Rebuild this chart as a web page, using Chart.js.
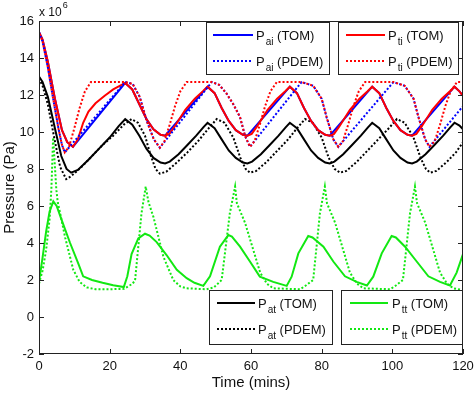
<!DOCTYPE html>
<html>
<head>
<meta charset="utf-8">
<title>Pressure vs time</title>
<script src="https://cdn.jsdelivr.net/npm/chart.js@4.4.1/dist/chart.umd.min.js"></script>
<style>
  html, body { margin: 0; padding: 0; background: #fff; }
  canvas { display: block; }
</style>
</head>
<body>
<canvas id="chart" width="474" height="393"></canvas>
<script>
const xTicks = [0, 20, 40, 60, 80, 100, 120];
const yTicks = [-2, 0, 2, 4, 6, 8, 10, 12, 14, 16];

// time in mins, pressure in 1e6 Pa
const paiTomT = [0, 1, 2.5, 4.5, 6.5, 8, 9.6, 24.4, 26.4, 28.4, 30.4, 32.4, 34.4, 35.7, 47.7, 49.7, 51.7, 53.7, 55.7, 57.7, 59, 71, 73, 75, 77, 79, 81, 82.3, 94.3, 96.3, 98.3, 100.3, 102.3, 104.3, 105.6, 117.6, 119, 120];
const paiTomP = [15.4, 15.0, 13.8, 11.8, 10.1, 9.45, 9.2, 12.65, 12.3, 11.5, 10.7, 10.15, 9.85, 9.8, 12.45, 12.1, 11.3, 10.6, 10.1, 9.85, 9.8, 12.45, 12.1, 11.3, 10.6, 10.1, 9.85, 9.8, 12.45, 12.1, 11.3, 10.6, 10.1, 9.85, 9.8, 12.45, 12.2, 11.95];

const paiPdemT = [0, 1, 2.5, 4, 5.5, 6.5, 7.3, 24.4, 26.5, 28.5, 30.5, 32.5, 34.2, 48.9, 51, 53, 55, 56.9, 58.3, 59.7, 74.3, 77.6, 80, 81.4, 83.3, 84.7, 100.3, 103.5, 106, 107.4, 109.3, 110.5, 120];
const paiPdemP = [15.4, 14.9, 13.5, 11.8, 10.2, 9.3, 8.9, 12.7, 12.6, 11.9, 10.6, 9.6, 9.15, 12.7, 12.55, 12.1, 11.5, 10.8, 9.8, 9.2, 12.7, 12.5, 11.8, 10.8, 9.6, 9.2, 12.7, 12.5, 11.8, 10.8, 9.6, 9.2, 11.4];

const ptiTomT = [0, 1, 2.5, 4.5, 6.5, 8, 9.6, 11, 12.5, 14, 16, 18.5, 21, 24.4, 26.4, 28.4, 30.4, 32.4, 34.4, 35.7, 36.9, 38.4, 41.4, 44.1, 46.4, 47.7, 49.7, 51.7, 53.7, 55.7, 57.7, 59, 60.2, 61.7, 64.7, 67.4, 69.7, 71, 73, 75, 77, 79, 81, 82.3, 83.5, 85, 88, 90.7, 93, 94.3, 96.3, 98.3, 100.3, 102.3, 104.3, 105.6, 106.8, 108.3, 111.3, 114, 116.3, 117.6, 119, 120];
const ptiTomP = [15.4, 15.0, 13.8, 11.8, 10.1, 9.45, 9.2, 9.6, 10.5, 11.1, 11.55, 11.95, 12.3, 12.65, 12.3, 11.5, 10.7, 10.15, 9.85, 9.8, 9.9, 10.3, 11.2, 11.8, 12.2, 12.45, 12.1, 11.3, 10.6, 10.1, 9.85, 9.8, 9.9, 10.3, 11.2, 11.8, 12.2, 12.45, 12.1, 11.3, 10.6, 10.1, 9.85, 9.8, 9.9, 10.3, 11.2, 11.8, 12.2, 12.45, 12.1, 11.3, 10.6, 10.1, 9.85, 9.8, 9.9, 10.3, 11.2, 11.8, 12.2, 12.45, 12.2, 11.95];

const ptiPdemT = [0, 1, 2.5, 4, 5.5, 6.5, 7.3, 8.5, 10, 11.5, 13, 14.7, 24.4, 26.5, 28.5, 30.5, 32.5, 34.2, 35.5, 37, 38.5, 40, 41.8, 48.9, 51, 53, 55, 56.9, 58.3, 59.7, 61, 62.5, 64, 65.5, 67.3, 74.3, 77.6, 80, 81.4, 83.3, 84.7, 86, 87.5, 89, 90.5, 92.3, 100.3, 103.5, 106, 107.4, 109.3, 110.5, 112, 113.5, 115, 116.5, 118.3, 120];
const ptiPdemP = [15.4, 14.9, 13.5, 11.8, 10.2, 9.3, 8.9, 9.2, 10.2, 11.3, 12.2, 12.7, 12.7, 12.6, 11.9, 10.6, 9.6, 9.15, 9.5, 10.4, 11.4, 12.2, 12.7, 12.7, 12.55, 12.1, 11.5, 10.8, 9.8, 9.2, 9.5, 10.4, 11.4, 12.2, 12.7, 12.7, 12.5, 11.8, 10.8, 9.6, 9.2, 9.5, 10.4, 11.4, 12.2, 12.7, 12.7, 12.5, 11.8, 10.8, 9.6, 9.2, 9.5, 10.4, 11.4, 12.2, 12.7, 12.7];

const patTomT = [0, 1, 2.5, 4.5, 6.3, 7.8, 9.1, 11, 14, 17, 20, 22.5, 24.4, 26.4, 28.4, 30.4, 32.4, 34.4, 35.7, 37, 39.5, 42, 44.5, 46.5, 47.7, 49.7, 51.7, 53.7, 55.7, 57.7, 59, 60.3, 62.8, 65.3, 67.8, 69.8, 71, 73, 75, 77, 79, 81, 82.3, 83.6, 86.1, 88.6, 91.1, 93.1, 94.3, 96.3, 98.3, 100.3, 102.3, 104.3, 105.6, 106.9, 109.4, 111.9, 114.4, 116.4, 117.6, 119, 120];
const patTomP = [13.0, 12.7, 11.9, 10.2, 8.7, 8.0, 7.8, 7.95, 8.5, 9.1, 9.7, 10.3, 10.7, 10.4, 9.8, 9.1, 8.6, 8.35, 8.3, 8.4, 8.8, 9.3, 9.8, 10.25, 10.5, 10.2, 9.6, 9.0, 8.6, 8.35, 8.3, 8.4, 8.8, 9.3, 9.8, 10.25, 10.5, 10.2, 9.6, 9.0, 8.6, 8.35, 8.3, 8.4, 8.8, 9.3, 9.8, 10.25, 10.5, 10.2, 9.6, 9.0, 8.6, 8.35, 8.3, 8.4, 8.8, 9.3, 9.8, 10.25, 10.5, 10.35, 10.15];

const patPdemT = [0, 1, 2.5, 4.5, 6, 7.7, 9, 12, 15, 18, 21, 24, 26.2, 28, 30, 31.5, 33, 34.2, 36, 39, 42, 45, 48, 50.3, 52.5, 55, 57, 58.5, 59.7, 61.5, 64.5, 67.5, 70.5, 73, 75.3, 77.5, 80, 82, 83.7, 85.2, 87, 90, 93, 96, 99, 101.3, 103.5, 106, 108, 109.5, 110.7, 112.5, 115.5, 118, 120];
const patPdemP = [12.9, 12.5, 11.5, 9.5, 8.1, 7.45, 7.6, 8.1, 8.7, 9.3, 9.8, 10.4, 10.7, 10.5, 9.8, 8.8, 8.0, 7.75, 7.85, 8.35, 8.9, 9.5, 10.2, 10.7, 10.5, 9.7, 8.6, 8.0, 7.8, 7.9, 8.4, 9.0, 9.6, 10.2, 10.7, 10.5, 9.7, 8.6, 8.0, 7.8, 7.9, 8.4, 9.0, 9.6, 10.2, 10.7, 10.5, 9.7, 8.6, 8.0, 7.8, 7.9, 8.4, 8.9, 9.45];

const pttTomT = [0, 1, 2, 3, 4.05, 5, 6.4, 8.8, 11.1, 12.5, 15, 18, 21, 24, 25, 26.2, 28.1, 30, 31.3, 33.3, 36.1, 39, 41.8, 44, 46.5, 48.4, 51.2, 53.6, 54.6, 56.9, 59.7, 62.5, 66.3, 70.1, 71.5, 73.4, 76.2, 77.4, 80.5, 83.3, 86.6, 89.9, 92.8, 94.6, 97, 99.8, 101, 103.6, 106.9, 110.2, 113.5, 116.3, 118.2, 120];
const pttTomP = [1.9, 3.2, 4.6, 5.7, 6.25, 6.0, 5.25, 4.0, 2.9, 2.2, 2.0, 1.85, 1.72, 1.62, 2.2, 3.4, 4.25, 4.5, 4.4, 4.05, 3.35, 2.55, 2.1, 1.85, 1.68, 2.2, 3.8, 4.43, 4.35, 3.8, 3.0, 2.18, 1.9, 1.68, 2.18, 3.44, 4.38, 4.3, 3.8, 3.0, 2.2, 1.9, 1.7, 2.18, 3.44, 4.38, 4.3, 3.8, 3.0, 2.2, 1.9, 1.7, 2.4, 3.4];

const pttPdemT = [0, 1, 2, 3, 3.5, 4.0, 4.9, 5.3, 6.0, 7.4, 9.7, 11.5, 13.5, 16, 20, 24, 26.5, 27.2, 29, 30.2, 31, 32.4, 35.2, 38, 40, 41.8, 47.4, 49.5, 51.7, 54, 55.5, 56, 58.3, 62.6, 64.5, 66.3, 73.9, 75.5, 77.6, 79.5, 80.9, 81.5, 83.8, 88, 90, 91.8, 99.4, 101, 103, 105, 106.4, 107, 109.3, 113.5, 115.5, 117.3, 120];
const pttPdemP = [1.8, 2.5, 3.6, 5.3, 6.9, 9.7, 6.9, 6.2, 5.6, 4.3, 2.55, 1.9, 1.6, 1.5, 1.5, 1.52, 1.8, 2.0, 5.6, 7.05, 6.2, 5.4, 3.26, 2.0, 1.65, 1.55, 1.5, 1.6, 2.0, 5.6, 7.05, 6.15, 5.1, 2.4, 1.8, 1.55, 1.5, 1.7, 2.0, 5.6, 7.05, 6.15, 5.1, 2.4, 1.8, 1.55, 1.5, 1.7, 2.0, 5.6, 7.05, 6.15, 5.1, 2.4, 1.8, 1.55, 1.45];

const FONT = '"Liberation Sans", Arial, Helvetica, sans-serif';
const DOT = [2, 2];
const GREEN = '#12e812';

const pts = (t, p) => t.map((x, i) => ({ x, y: p[i] }));

function series(label, sub, model, t, p, color, dotted, order, offset = 0) {
    return {
        label, sub, model,
        data: pts(t, p),
        borderColor: color,
        backgroundColor: color,
        borderWidth: 2,
        borderDash: dotted ? DOT : [],
        borderDashOffset: offset,
        pointRadius: 0,
        tension: 0,
        fill: false,
        order
    };
}

const datasets = [
    series('P_ai (TOM)', 'ai', 'TOM', paiTomT, paiTomP, '#0000ff', false, 5),
    series('P_ai (PDEM)', 'ai', 'PDEM', paiPdemT, paiPdemP, '#0000ff', true, 2),
    series('P_ti (TOM)', 'ti', 'TOM', ptiTomT, ptiTomP, '#ff0000', false, 3),
    series('P_ti (PDEM)', 'ti', 'PDEM', ptiPdemT, ptiPdemP, '#ff0000', true, 1, 2),
    series('P_at (TOM)', 'at', 'TOM', patTomT, patTomP, '#000000', false, 8),
    series('P_at (PDEM)', 'at', 'PDEM', patPdemT, patPdemP, '#000000', true, 7),
    series('P_tt (TOM)', 'tt', 'TOM', pttTomT, pttTomP, GREEN, false, 6),
    series('P_tt (PDEM)', 'tt', 'PDEM', pttPdemT, pttPdemP, GREEN, true, 4)
];

// legend boxes: [left, top, width, height, sample x0, sample x1, text x, dataset indexes]
const legendBoxes = [
    [206, 22, 123, 52, 213, 253, 256, [0, 1]],
    [338, 22, 120, 52, 346, 385, 388, [2, 3]],
    [209, 290, 123, 54, 217, 255, 258, [4, 5]],
    [341, 290, 121, 54, 350, 388, 392, [6, 7]]
];

function legendEntry(ctx, ds, x0, x1, xt, y) {
    ctx.save();
    ctx.strokeStyle = ds.borderColor;
    ctx.lineWidth = 2;
    ctx.setLineDash(ds.borderDash);
    ctx.beginPath();
    ctx.moveTo(x0, y);
    ctx.lineTo(x1, y);
    ctx.stroke();
    ctx.restore();

    ctx.fillStyle = '#111';
    ctx.textBaseline = 'alphabetic';
    ctx.textAlign = 'left';
    ctx.font = '13px ' + FONT;
    ctx.fillText('P', xt, y + 5);
    let w = ctx.measureText('P').width + 1;
    ctx.font = '10px ' + FONT;
    ctx.fillText(ds.sub, xt + w, y + 10);
    w += ctx.measureText(ds.sub).width;
    ctx.font = '13px ' + FONT;
    ctx.fillText(' (' + ds.model + ')', xt + w, y + 5);
}

const framePlugin = {
    id: 'frame',
    afterDatasetsDraw(chart) {
        const { ctx, chartArea: a, scales: { x, y } } = chart;
        ctx.save();
        ctx.strokeStyle = '#222';
        ctx.lineWidth = 1;
        ctx.strokeRect(a.left + 0.5, a.top + 0.5, a.right - a.left - 1, a.bottom - a.top - 1);

        // inward ticks on all four sides
        ctx.beginPath();
        xTicks.forEach(v => {
            const px = Math.round(x.getPixelForValue(v)) + 0.5;
            ctx.moveTo(px, a.bottom); ctx.lineTo(px, a.bottom - 5);
            ctx.moveTo(px, a.top); ctx.lineTo(px, a.top + 5);
        });
        yTicks.forEach(v => {
            const py = Math.round(y.getPixelForValue(v)) + 0.5;
            ctx.moveTo(a.left, py); ctx.lineTo(a.left + 5, py);
            ctx.moveTo(a.right, py); ctx.lineTo(a.right - 5, py);
        });
        ctx.stroke();

        // exponent label
        ctx.fillStyle = '#111';
        ctx.textAlign = 'left';
        ctx.textBaseline = 'alphabetic';
        ctx.font = '12px ' + FONT;
        ctx.fillText('x 10', a.left, 16);
        const w = ctx.measureText('x 10').width;
        ctx.font = '9px ' + FONT;
        ctx.fillText('6', a.left + 1 + w, 8);
        ctx.restore();
    },
    afterDraw(chart) {
        const { ctx } = chart;
        legendBoxes.forEach(([bx, by, bw, bh, x0, x1, xt, idx]) => {
            ctx.save();
            ctx.fillStyle = '#fff';
            ctx.fillRect(bx, by, bw, bh);
            ctx.strokeStyle = '#222';
            ctx.lineWidth = 1;
            ctx.strokeRect(bx + 0.5, by + 0.5, bw, bh);
            ctx.restore();
            idx.forEach((k, r) => {
                legendEntry(ctx, chart.data.datasets[k], x0, x1, xt, by + 13 + r * 26);
            });
        });
    }
};

new Chart(document.getElementById('chart'), {
    type: 'line',
    data: { datasets },
    plugins: [framePlugin],
    options: {
        responsive: false,
        animation: false,
        layout: { padding: { top: 21, right: 11, left: 0, bottom: 0 } },
        plugins: {
            legend: { display: false },
            tooltip: { enabled: false }
        },
        scales: {
            x: {
                type: 'linear',
                min: 0,
                max: 120,
                afterBuildTicks: s => { s.ticks = xTicks.map(v => ({ value: v })); },
                afterFit: s => { s.height = 39; s.paddingLeft = 0; s.paddingRight = 0; },
                grid: { display: false, drawTicks: false },
                border: { display: false },
                ticks: {
                    padding: 5,
                    maxRotation: 0,
                    color: '#111',
                    font: { family: FONT, size: 13 }
                },
                title: {
                    display: true,
                    text: 'Time (mins)',
                    color: '#111',
                    font: { family: FONT, size: 15 },
                    padding: { top: 0, bottom: 1 }
                }
            },
            y: {
                type: 'linear',
                min: -2,
                max: 16,
                afterBuildTicks: s => { s.ticks = yTicks.map(v => ({ value: v })); },
                afterFit: s => { s.width = 39; s.paddingTop = 0; s.paddingBottom = 0; },
                grid: { display: false, drawTicks: false },
                border: { display: false },
                ticks: {
                    padding: 5,
                    color: '#111',
                    font: { family: FONT, size: 13 }
                },
                title: {
                    display: true,
                    text: 'Pressure (Pa)',
                    color: '#111',
                    font: { family: FONT, size: 15 },
                    padding: { top: 1, bottom: 0 }
                }
            }
        }
    }
});
</script>
</body>
</html>
